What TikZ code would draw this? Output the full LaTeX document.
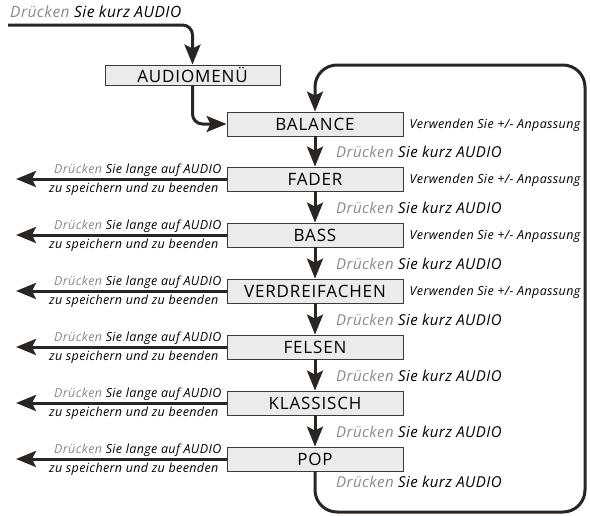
\documentclass[tikz,border=0pt]{standalone}
\usepackage{fontspec}
\setmainfont{Open Sans}
\newfontfamily\boxfont[LetterSpace=5]{Open Sans}
\newfontfamily\txtfont[LetterSpace=3]{Open Sans}
\usetikzlibrary{arrows.meta}
\definecolor{lineclr}{HTML}{2B2522}
\definecolor{boxfill}{HTML}{EBEBEB}
\definecolor{boxline}{HTML}{3A3A3A}
\definecolor{grytxt}{HTML}{8A8A8A}
\tikzset{
  stepbox/.style={draw=boxline, line width=0.9pt, fill=boxfill, minimum width=176pt, minimum height=24pt, inner sep=0pt, font=\boxfont\fontsize{17}{17}\selectfont},
  flow/.style={line width=3pt, draw=lineclr, -{Stealth[length=20pt,width=16pt,inset=4pt]}},
  shorttxt/.style={anchor=west, inner sep=0pt, font=\txtfont\itshape\fontsize{15}{15}\selectfont},
  adjtxt/.style={anchor=west, inner sep=0pt, font=\txtfont\itshape\fontsize{12.5}{12.5}\selectfont},
  longtxt/.style={anchor=east, inner sep=0pt, font=\txtfont\itshape\fontsize{12.5}{12.5}\selectfont},
}
\newcommand{\dr}{{\color{grytxt}Drücken}}
\begin{document}
\begin{tikzpicture}[x=1pt,y=-1pt]
\useasboundingbox (0,0) rectangle (590,515);
% nodes
\node[shorttxt, font=\txtfont\itshape\fontsize{15.5}{15.5}\selectfont] (toptxt) at (10,12) {\dr{} Sie kurz AUDIO};
\node[stepbox, minimum width=175pt, minimum height=20pt] (am) at (192.5,75) {AUDIOMENÜ};
\node[stepbox] (b1) at (315,124) {BALANCE};
\node[stepbox] (b2) at (315,179) {FADER};
\node[stepbox] (b3) at (315,235) {BASS};
\node[stepbox] (b4) at (315,291) {VERDREIFACHEN};
\node[stepbox] (b5) at (315,347) {FELSEN};
\node[stepbox] (b6) at (315,403) {KLASSISCH};
\node[stepbox] (b7) at (315,459) {POP};
\coordinate (st) at (8,25);
\coordinate (c1) at (585,512);
\coordinate (c2) at (585,65);
\coordinate (lx) at (16,0);
% top flow
\draw[flow, rounded corners=10pt] (st) -| (am.north);
\draw[flow, rounded corners=10pt] (am.south) |- (b1.west);
% down arrows
\foreach \a/\b in {b1/b2,b2/b3,b3/b4,b4/b5,b5/b6,b6/b7}{
  \draw[flow] (\a.south) -- (\b.north);
}
% loop
\draw[flow, rounded corners=22pt] (b7.south) |- (c1) -- (c2) -| (b1.north);
% short press texts
\foreach \y in {152,208,264,320,376,432,482}{
  \node[shorttxt] at (336,\y) {\dr{} Sie kurz AUDIO};
}
% adjust texts
\foreach \n in {b1,b2,b3,b4}{
  \node[adjtxt] at ([xshift=6pt,yshift=-1pt]\n.east) {Verwenden Sie +/- Anpassung};
}
% long press arrows
\foreach \n in {b2,b3,b4,b5,b6,b7}{
  \draw[flow] (\n.west) -- (\n.west -| lx);
  \node[longtxt] at ([xshift=-5pt,yshift=9pt]\n.west) {\dr{} Sie lange auf AUDIO};
  \node[longtxt] at ([xshift=-8pt,yshift=-10pt]\n.west) {zu speichern und zu beenden};
}
\end{tikzpicture}
\end{document}
